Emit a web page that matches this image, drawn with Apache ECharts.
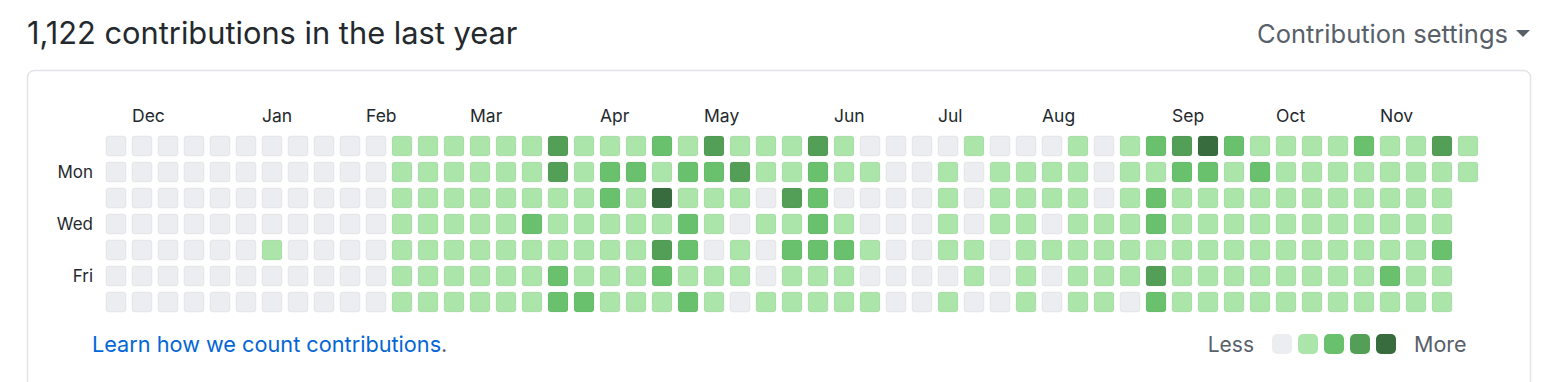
<!DOCTYPE html>
<html>
<head>
<meta charset="utf-8">
<script src="https://cdn.jsdelivr.net/npm/echarts@6/dist/echarts.min.js"></script>
<style>
html,body{margin:0;padding:0;background:#fff;}
#chart{width:1548px;height:382px;}
</style>
</head>
<body>
<div id="chart"></div>
<script>
// ---- data: contribution level (0-4) per weekday row, 53 week columns ----
const sun = [0,0,0,0,0,0,0,0,0,0,0,1,1, 1,1,1,1,3,1,1,1,2,1,3,1,1, 1,3,1,0,0,0,0,1,0,0,0,1,0, 1,2,3,4,2,1,1,1,1,2,1,1,3,1];
const mon = [0,0,0,0,0,0,0,0,0,0,0,1,1, 1,1,1,1,3,1,2,2,1,2,2,3,1, 1,2,1,1,0,0,1,0,1,1,1,1,0, 1,1,2,2,1,2,1,1,1,1,1,1,1,1];
const tue = [0,0,0,0,0,0,0,0,0,0,0,1,1, 1,1,1,1,1,1,2,1,4,1,1,1,0, 3,2,0,0,0,0,1,0,1,1,1,1,0, 1,2,1,1,1,1,1,1,1,1,1,1,1,null];
const wed = [0,0,0,0,0,0,0,0,0,0,0,1,1, 1,1,1,2,1,1,1,1,1,2,1,0,1, 1,2,1,0,0,0,1,0,1,1,0,1,1, 1,2,1,1,1,1,1,1,1,1,1,1,1,null];
const thu = [0,0,0,0,0,0,1,0,0,0,0,1,1, 1,1,1,1,1,1,1,1,3,2,0,1,0, 2,2,2,1,0,0,1,1,0,1,1,1,1, 1,1,1,1,1,1,1,1,1,1,1,1,2,null];
const fri = [0,0,0,0,0,0,0,0,0,0,0,1,1, 1,1,1,1,2,1,1,1,2,1,1,1,0, 1,1,1,0,0,0,0,1,0,1,0,1,1, 1,3,1,1,1,1,1,1,1,1,2,1,1,null];
const sat = [0,0,0,0,0,0,0,0,0,0,0,1,1, 1,1,1,1,2,2,1,1,1,2,1,0,1, 1,1,1,1,0,0,1,0,0,1,0,1,1, 0,2,1,1,1,1,1,1,1,1,1,1,1,null];

const dayLabels = ['', 'Mon', '', 'Wed', '', 'Fri', ''];
const monthNames = ['Dec','Jan','Feb','Mar','Apr','May','Jun','Jul','Aug','Sep','Oct','Nov'];
const monthCols  = [1, 6, 10, 14, 19, 23, 28, 32, 36, 41, 45, 49];
const levelColors = ['#ebedf0', '#ace5aa', '#69c16e', '#549f57', '#386c3e'];
const totalText = '1,122 contributions in the last year';

// ---- build ----
const rows = [sun, mon, tue, wed, thu, fri, sat];
const weeks = sun.map((_, i) => String(i));
const cells = [];
rows.forEach((r, d) => r.forEach((v, w) => { if (v !== null) cells.push([w, d, v]); }));
const monthAt = {};
monthCols.forEach((c, i) => { monthAt[c] = monthNames[i]; });

const FONT = 'Inter, "Noto Sans", sans-serif';
const chart = echarts.init(document.getElementById('chart'), null, {renderer: 'svg'});
chart.setOption({
  animation: false,
  backgroundColor: '#fff',
  grid: {left: 103, top: 133, width: 53 * 26, height: 7 * 26, containLabel: false},
  xAxis: [
    {type: 'category', data: weeks, show: false},
    {type: 'value', min: 0, max: 53, interval: 1, position: 'top',
     axisLine: {show: false}, axisTick: {show: false}, splitLine: {show: false},
     axisLabel: {show: true, margin: 18, verticalAlign: 'middle', align: 'left', padding: [0,0,0,3],
       color: '#24292e', fontSize: 17.5, fontFamily: FONT,
       formatter: v => monthAt[v] || ''}}
  ],
  yAxis: {type: 'category', data: dayLabels, inverse: true,
    axisLine: {show: false}, axisTick: {show: false}, splitLine: {show: false},
    axisLabel: {interval: 0, margin: 10, color: '#24292e', fontSize: 17, fontFamily: FONT,
      padding: [5, 0, 0, 0]}},
  visualMap: {
    type: 'piecewise', dimension: 2, orient: 'horizontal',
    pieces: levelColors.map((c, i) => ({value: i, color: c})),
    itemWidth: 20, itemHeight: 20, itemGap: 6, itemSymbol: 'roundRect',
    showLabel: false,
    left: 1272, top: 334, padding: 0, selectedMode: false, hoverLink: false
  },
  series: [{
    type: 'custom',
    xAxisIndex: 0, yAxisIndex: 0,
    data: cells,
    encode: {x: 0, y: 1},
    renderItem: function (params, api) {
      const p = api.coord([api.value(0), api.value(1)]);
      return {
        type: 'rect',
        shape: {x: p[0] - 10, y: p[1] - 10, width: 20, height: 20, r: 3},
        style: {fill: api.visual('color'), stroke: 'rgba(27,31,35,0.06)', lineWidth: 1}
      };
    }
  }],
  graphic: [
    {type: 'rect', shape: {x: 27.5, y: 70.5, width: 1503, height: 420, r: 7},
     style: {fill: 'none', stroke: '#e1e4e8', lineWidth: 1.5}, silent: true},
    {type: 'text', x: 27, y: 32, style: {text: totalText, fill: '#24292e',
      font: '30.8px ' + FONT, textVerticalAlign: 'middle'}},
    {type: 'text', x: 1508, y: 33, style: {text: 'Contribution settings', fill: '#586069',
      font: '25.5px ' + FONT, textAlign: 'right', textVerticalAlign: 'middle'}},
    {type: 'polygon', shape: {points: [[1516, 30], [1530, 30], [1523, 37]]}, style: {fill: '#586069'}},
    {type: 'text', x: 92, y: 344, style: {
      text: '{a|Learn how we count contributions}{b|.}',
      textVerticalAlign: 'middle',
      rich: {a: {fill: '#0366d6', font: '21.7px ' + FONT}, b: {fill: '#586069', font: '21.7px ' + FONT}}}},
    {type: 'text', x: 1254, y: 344, style: {text: 'Less', fill: '#586069',
      font: '21px ' + FONT, textAlign: 'right', textVerticalAlign: 'middle'}},
    {type: 'text', x: 1414, y: 344, style: {text: 'More', fill: '#586069',
      font: '21.5px ' + FONT, textAlign: 'left', textVerticalAlign: 'middle'}}
  ]
});
</script>
</body>
</html>
